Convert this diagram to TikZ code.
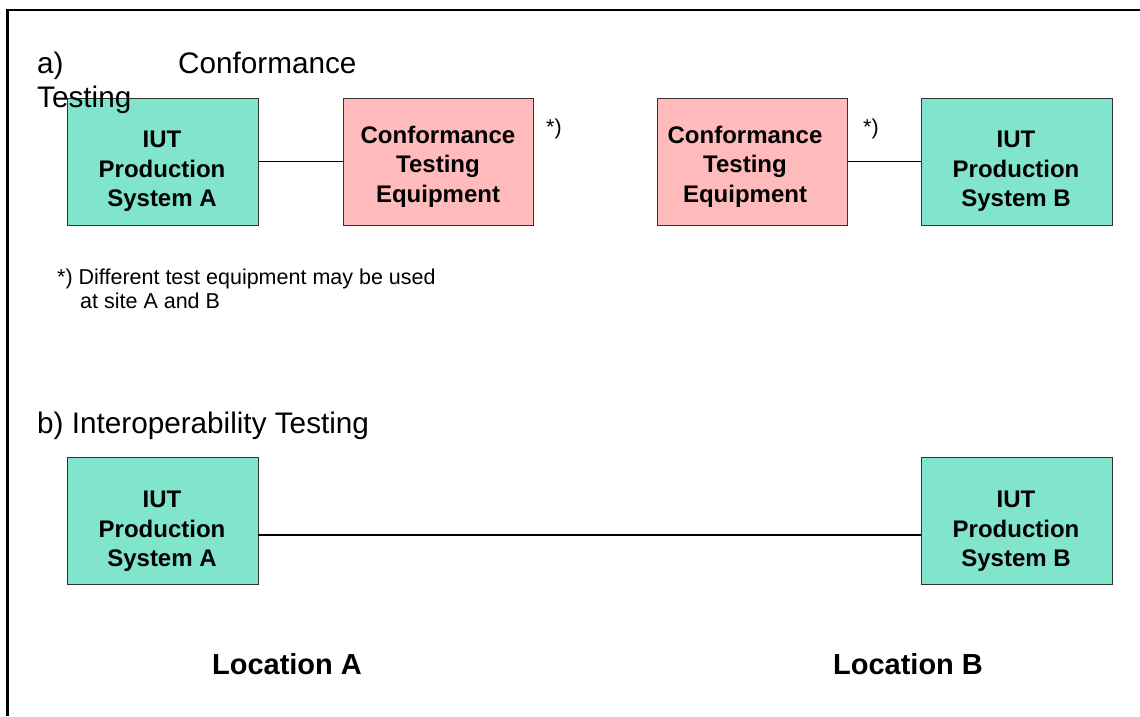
\documentclass[tikz,border=0pt]{standalone}
\usepackage{fontspec}
\setmainfont{Liberation Sans}
\begin{document}
\begin{tikzpicture}[x=1pt,y=-1pt,
  iutbox/.style={draw=black!80,line width=0.9pt,fill=iutfill,minimum width=191pt,minimum height=127pt,inner sep=0pt},
  ctebox/.style={draw=black!80,line width=0.9pt,fill=ctefill,minimum width=190pt,minimum height=127pt,inner sep=0pt},
  boxtext/.style={align=center,inner sep=0pt,font=\fontsize{24}{29.5}\selectfont\bfseries},
  heading/.style={anchor=base west,inner sep=0pt,font=\fontsize{29.7}{34}\selectfont},
  note/.style={anchor=base west,inner sep=0pt,font=\fontsize{21.5}{25}\selectfont},
  location/.style={anchor=base,inner sep=0pt,font=\fontsize{29}{34}\selectfont\bfseries},
  link/.style={line width=1.3pt,black}
]
\definecolor{iutfill}{RGB}{128,229,204}
\definecolor{ctefill}{RGB}{255,187,187}
\useasboundingbox (0,0) rectangle (1140,716);
\fill[white] (0,0) rectangle (1140,716);
% frame
\draw[line width=2.5pt] (1140,10) -- (7.5,10) -- (7.5,716);

% a) Conformance testing
\node[iutbox] (ia) at (162.5,161.5) {};
\node[boxtext] (iat) at (162,171.5) {IUT\\Production\\System A};
\node[ctebox] (ca) at (438,161.5) {};
\node[boxtext] (cat) at (438,166.5) {Conformance\\Testing\\Equipment};
\node[ctebox] (cb) at (752.5,161.5) {};
\node[boxtext] (cbt) at (745,166.5) {Conformance\\Testing\\Equipment};
\node[iutbox] (ib) at (1017,161.5) {};
\node[boxtext] (ibt) at (1016,171.5) {IUT\\Production\\System B};

\node[heading] (ha) at (37,73) {a)};
\node[heading] (hconf) at (178,73) {Conformance};
\node[heading] (htest) at (37,107) {Testing};

\node[note] (sa) at (546,134) {*)};
\node[note] (sb) at (863,134) {*)};

\draw[link] (ia.east) -- (ca.west);
\draw[link] (cb.east) -- (ib.west);

\node[note] (fn1) at (57,284) {*) Different test equipment may be used};
\node[note] (fn2) at (80,308) {at site A and B};

% b) Interoperability testing
\node[heading] (hb) at (37,433) {b) Interoperability Testing};

\node[iutbox] (ja) at (162.5,520.5) {};
\node[boxtext] (jat) at (162,531.5) {IUT\\Production\\System A};
\node[iutbox] (jb) at (1017,520.5) {};
\node[boxtext] (jbt) at (1016,531.5) {IUT\\Production\\System B};

\draw[link] ([yshift=-14.5pt]ja.east) -- ([yshift=-14.5pt]jb.west);

\node[location] (la) at (287,674) {Location A};
\node[location] (lb) at (908,674) {Location B};
\end{tikzpicture}
\end{document}
